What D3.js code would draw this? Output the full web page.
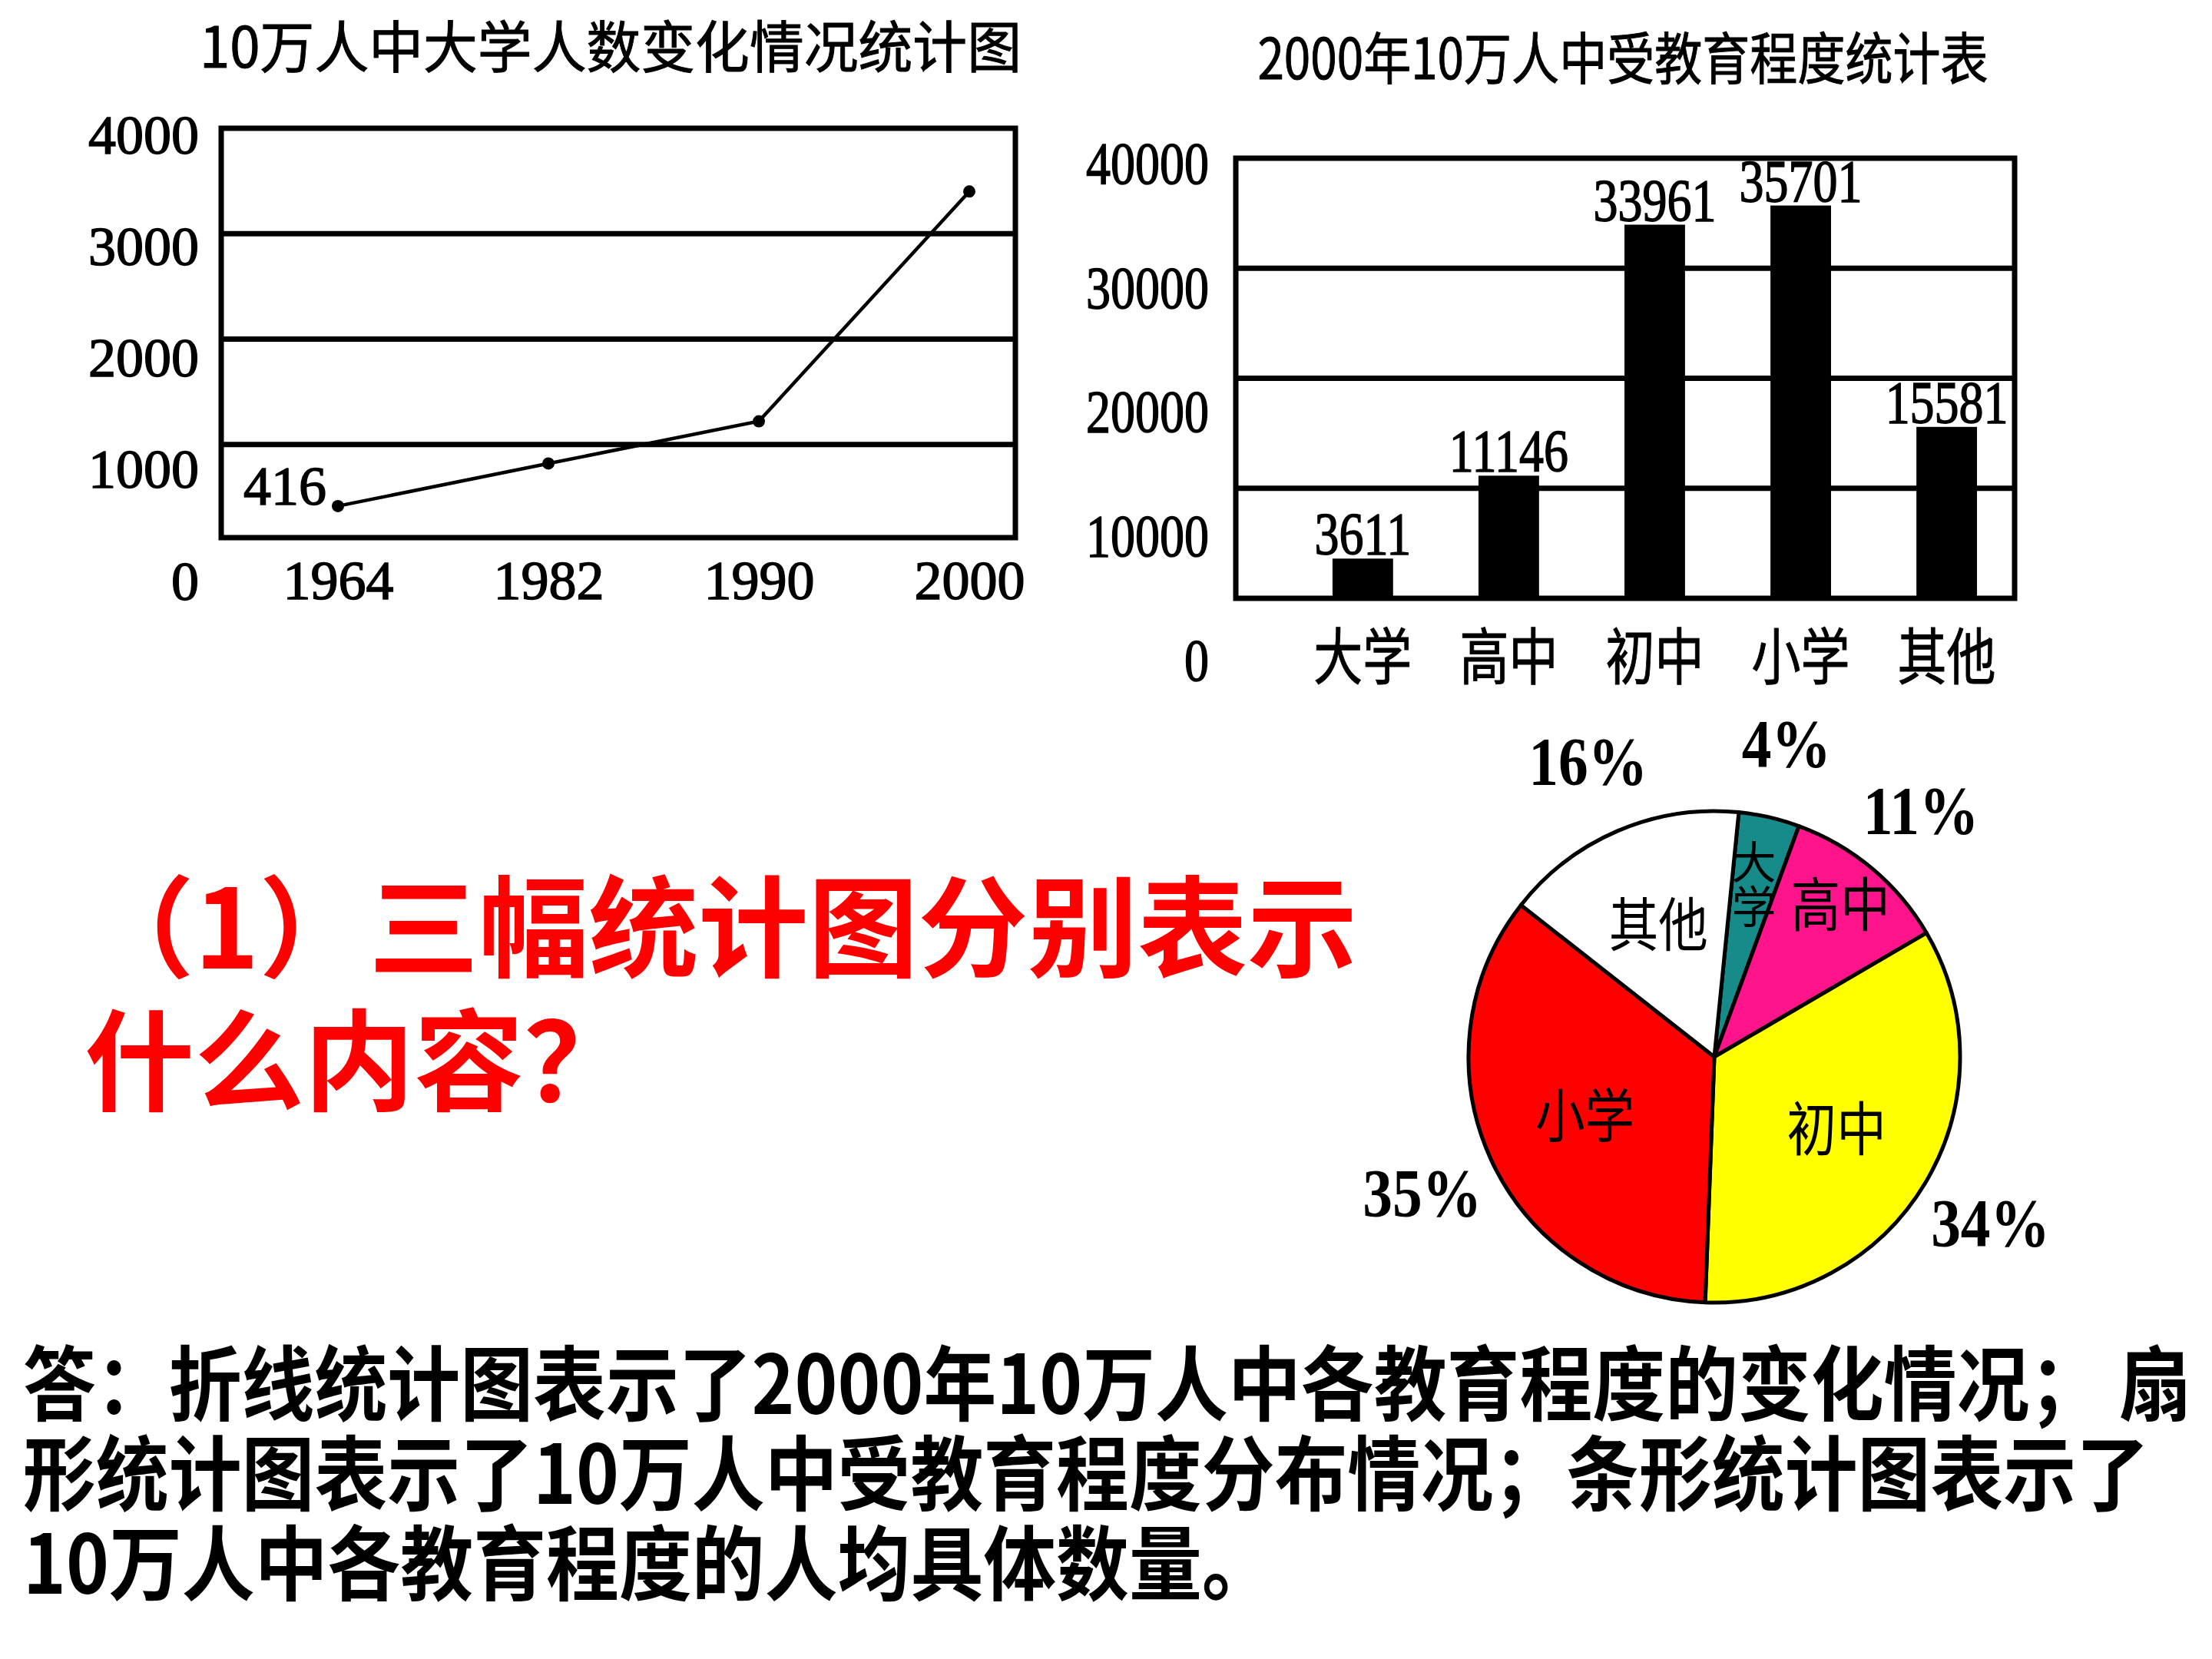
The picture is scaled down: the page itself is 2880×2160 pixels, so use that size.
<!DOCTYPE html>
<html>
<head>
<meta charset="utf-8">
<script src="https://cdn.jsdelivr.net/npm/d3@7"></script>
<style>
  body { margin: 0; background: #fff; }
  svg { display: block; }
</style>
</head>
<body>
<div id="chart"></div>
<script>
// data
const years = ["1964", "1982", "1990", "2000"];
const collegeCounts = [416, 820, 1220, 3400];
const lineTicks = [0, 1000, 2000, 3000, 4000];

const levels = ["大学", "高中", "初中", "小学", "其他"];
const levelCounts = [3611, 11146, 33961, 35701, 15581];
const barTicks = [0, 10000, 20000, 30000, 40000];

const pieShares = [4, 11, 34, 35, 16];
const pieColors = ["#178a8a", "#ff148c", "#ffff00", "#ff0000", "#ffffff"];

const lineTitle = "10万人中大学人数变化情况统计图";
const barTitle = "2000年10万人中受教育程度统计表";
const questionLines = ["（1）三幅统计图分别表示", "什么内容？"];
const answerLines = [
  "答：折线统计图表示了2000年10万人中各教育程度的变化情况； 扇",
  "形统计图表示了10万人中受教育程度分布情况；条形统计图表示了",
  "10万人中各教育程度的人均具体数量。"
];

const width = 2880, height = 2160;
const cjk = "'Noto Sans CJK SC', sans-serif",
    serif = "'Liberation Serif', 'DejaVu Serif', serif";

const svg = d3.select("#chart").append("svg")
    .attr("width", width)
    .attr("height", height)
    .attr("viewBox", [0, 0, width, height]);

// squeeze a text horizontally, the source fonts are narrow
function squeeze(sel, k) {
  sel.each(function () {
    const w = this.getComputedTextLength();
    d3.select(this).attr("textLength", w * k).attr("lengthAdjust", "spacingAndGlyphs");
  });
}

// the digits in the picture are a bit heavier than plain Times
function heavy(sel, w) {
  sel.attr("stroke", "#000").attr("stroke-width", w);
}

/* ---------- line chart ---------- */
const lb = { left: 288, right: 1322, top: 167, bottom: 700 };

const lx = d3.scalePoint().domain(years).range([440, 1262]);
const ly = d3.scaleLinear().domain([0, 4000]).range([716, lb.top]);
const lyLabel = d3.scaleLinear().domain([0, 4000]).range([755, 174]); // labels sit lower than the grid

svg.append("text")
    .attr("x", 795).attr("y", 88)
    .attr("text-anchor", "middle")
    .attr("font-family", cjk).attr("font-size", 73)
    .text(lineTitle)
    .call(heavy, 1)
    .call(squeeze, 0.97);

svg.append("g")
    .attr("stroke", "#000").attr("stroke-width", 7)
  .selectAll("line")
  .data(lineTicks.filter(d => d > 0 && d < 4000))
  .join("line")
    .attr("x1", lb.left).attr("x2", lb.right)
    .attr("y1", d => ly(d)).attr("y2", d => ly(d));

svg.append("rect")
    .attr("x", lb.left).attr("y", lb.top)
    .attr("width", lb.right - lb.left).attr("height", lb.bottom - lb.top)
    .attr("fill", "none").attr("stroke", "#000").attr("stroke-width", 7);

const lyAxis = svg.append("g")
    .attr("transform", "translate(259,0)")
    .call(d3.axisLeft(lyLabel).tickValues(lineTicks).tickSize(0).tickPadding(0).tickFormat(d3.format("d")));
lyAxis.select(".domain").remove();
lyAxis.attr("font-family", serif).attr("font-size", 72);
lyAxis.selectAll("text").attr("dy", "0.35em").attr("fill", "#000").call(heavy, 1.5);

const lxAxis = svg.append("g")
    .attr("transform", "translate(0,755)")
    .call(d3.axisBottom(lx).tickSize(0).tickPadding(0));
lxAxis.select(".domain").remove();
lxAxis.attr("font-family", serif).attr("font-size", 72);
lxAxis.selectAll("text").attr("y", 0).attr("dy", "0.35em").attr("fill", "#000").call(heavy, 1.5);

const line = d3.line()
    .x((d, i) => lx(years[i]))
    .y(d => ly(d));

svg.append("path")
    .datum(collegeCounts)
    .attr("d", line)
    .attr("fill", "none")
    .attr("stroke", "#000")
    .attr("stroke-width", 4.5);

svg.append("g")
  .selectAll("circle")
  .data(collegeCounts)
  .join("circle")
    .attr("cx", (d, i) => lx(years[i]))
    .attr("cy", d => ly(d))
    .attr("r", 8);

svg.append("text")
    .attr("x", lx(years[0]) - 15)
    .attr("y", ly(collegeCounts[0]) - 2)
    .attr("text-anchor", "end")
    .attr("font-family", serif).attr("font-size", 72)
    .text(collegeCounts[0])
    .call(heavy, 1.5);

/* ---------- bar chart ---------- */
const bb = { left: 1609, right: 2623, top: 206, bottom: 779 };

const bx = d3.scaleBand().domain(levels)
    .range([bb.left, bb.right])
    .paddingInner(0.585).paddingOuter(0.46).align(0.72);
const by = d3.scaleLinear().domain([0, 40000]).range([bb.bottom, bb.top]);
const byLabel = d3.scaleLinear().domain([0, 40000]).range([858, 211]);

svg.append("text")
    .attr("x", 2113).attr("y", 103)
    .attr("text-anchor", "middle")
    .attr("font-family", cjk).attr("font-size", 73)
    .text(barTitle)
    .call(heavy, 1)
    .call(squeeze, 0.85);

svg.append("g")
    .attr("stroke", "#000").attr("stroke-width", 7)
  .selectAll("line")
  .data(barTicks.filter(d => d > 0 && d < 40000))
  .join("line")
    .attr("x1", bb.left).attr("x2", bb.right)
    .attr("y1", d => by(d)).attr("y2", d => by(d));

svg.append("g")
  .selectAll("rect")
  .data(levelCounts)
  .join("rect")
    .attr("x", (d, i) => bx(levels[i]))
    .attr("y", d => by(d))
    .attr("width", bx.bandwidth())
    .attr("height", d => by(0) - by(d))
    .attr("fill", "#000");

svg.append("rect")
    .attr("x", bb.left).attr("y", bb.top)
    .attr("width", bb.right - bb.left).attr("height", bb.bottom - bb.top)
    .attr("fill", "none").attr("stroke", "#000").attr("stroke-width", 7);

svg.append("g")
  .selectAll("text")
  .data(levelCounts)
  .join("text")
    .attr("x", (d, i) => bx(levels[i]) + bx.bandwidth() / 2)
    .attr("y", d => by(d) - 6)
    .attr("text-anchor", "middle")
    .attr("font-family", serif).attr("font-size", 78)
    .text(d => d)
    .call(heavy, 1.5)
    .call(squeeze, 0.82);

const byAxis = svg.append("g")
    .attr("transform", "translate(1574,0)")
    .call(d3.axisLeft(byLabel).tickValues(barTicks).tickSize(0).tickPadding(0).tickFormat(d3.format("d")));
byAxis.select(".domain").remove();
byAxis.attr("font-family", serif).attr("font-size", 78);
byAxis.selectAll("text").attr("dy", "0.35em").attr("fill", "#000").call(heavy, 1.5).call(squeeze, 0.82);

const bxAxis = svg.append("g")
    .attr("transform", "translate(0,856)")
    .call(d3.axisBottom(bx).tickSize(0).tickPadding(0));
bxAxis.select(".domain").remove();
bxAxis.attr("font-family", cjk).attr("font-size", 80);
bxAxis.selectAll("text").attr("y", 0).attr("dy", "0.35em").attr("fill", "#000")
    .call(heavy, 1).call(squeeze, 0.8);

/* ---------- pie chart ---------- */
const cx = 2232, cy = 1376, R = 320;
const total = d3.sum(pieShares);
const start = 0.1; // the first slice starts just right of twelve o'clock

const pie = d3.pie().sort(null).value(d => d)
    .startAngle(start).endAngle(start + 2 * Math.PI);
const arcs = pie(pieShares);
const arc = d3.arc().innerRadius(0).outerRadius(R);
const innerLabel = d3.arc().innerRadius(R * 1.16).outerRadius(0);   // centroid at 0.58 R
const smallLabel = d3.arc().innerRadius(R * 1.6).outerRadius(0);    // centroid at 0.8 R
const narrowLabel = d3.arc().innerRadius(R * 1.44).outerRadius(0);  // centroid at 0.72 R
const outerLabel = d3.arc().innerRadius(R * 1.31).outerRadius(R * 1.31);

const pg = svg.append("g").attr("transform", `translate(${cx},${cy})`);

pg.selectAll("path")
  .data(arcs)
  .join("path")
    .attr("d", arc)
    .attr("fill", (d, i) => pieColors[i])
    .attr("stroke", "#000")
    .attr("stroke-width", 5)
    .attr("stroke-linejoin", "round");

pg.selectAll("text.name")
  .data(arcs)
  .join("text")
    .attr("class", "name")
    .attr("text-anchor", "middle")
    .attr("font-family", cjk)
    .text((d, i) => levels[i])
    .each(function (d) {
      const t = d3.select(this);
      const narrow = d.endAngle - d.startAngle < 0.3;
      const small = d.data / total < 0.15;
      const c = (narrow ? narrowLabel : small ? smallLabel : innerLabel).centroid(d);
      if (narrow) {
        // narrow slice: write the name top to bottom
        t.attr("x", c[0]).attr("y", c[1])
          .attr("font-size", 58)
          .style("writing-mode", "vertical-rl");
      } else {
        t.attr("x", c[0]).attr("y", c[1])
          .attr("font-size", 76).attr("dy", "0.35em")
          .call(squeeze, 0.85);
      }
    });

pg.selectAll("text.pct")
  .data(arcs)
  .join("text")
    .attr("class", "pct")
    .attr("transform", d => `translate(${outerLabel.centroid(d)})`)
    .attr("dy", "0.35em")
    .attr("text-anchor", "middle")
    .attr("font-family", serif).attr("font-weight", "bold").attr("font-size", 88)
    .text(d => d.data + "%")
    .call(squeeze, 0.88);

/* ---------- question and answer ---------- */
// each block is one text element, one tspan per line
svg.append("text")
    .attr("font-family", cjk).attr("font-weight", 700).attr("font-size", 143)
    .attr("fill", "#ff0000")
    .attr("y", 1261)
  .selectAll("tspan")
  .data(questionLines)
  .join("tspan")
    .attr("x", 110)
    .attr("dy", (d, i) => i ? 174 : 0)
    .text(d => d);

// the answer font is narrow: squeeze the whole block
svg.append("text")
    .attr("transform", "translate(30,1841) scale(0.895,1)")
    .attr("font-family", cjk).attr("font-weight", 700).attr("font-size", 106)
    .attr("fill", "#000")
  .selectAll("tspan")
  .data(answerLines)
  .join("tspan")
    .attr("x", 0)
    .attr("dy", (d, i) => i ? 117 : 0)
    .text(d => d);
</script>
</body>
</html>
